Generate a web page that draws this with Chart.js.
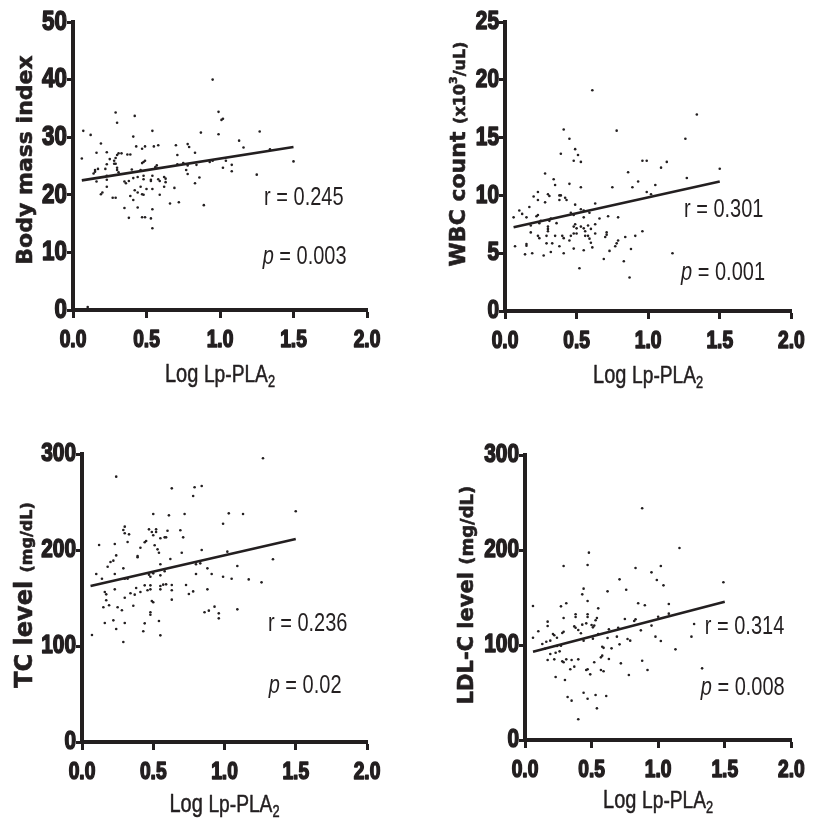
<!DOCTYPE html>
<html>
<head>
<meta charset="utf-8">
<script src="https://cdn.jsdelivr.net/npm/chart.js@4.4.0/dist/chart.umd.min.js"></script>
<style>
html,body{margin:0;padding:0;background:#fff;width:816px;height:821px;overflow:hidden;}
canvas{position:absolute;display:block;}
</style>
</head>
<body>
<canvas id="c1" width="408" height="410" style="left:0;top:0"></canvas>
<canvas id="c2" width="408" height="410" style="left:408px;top:0"></canvas>
<canvas id="c3" width="408" height="411" style="left:0;top:410px"></canvas>
<canvas id="c4" width="408" height="411" style="left:408px;top:410px"></canvas>
<script>
// ---------- data ----------
const xTickValues = [0, 0.5, 1.0, 1.5, 2.0];

// Panel 1: Body mass index
const bmiX = [0.95,0.29,0.99,0.42,1.02,1.01,0.30,0.07,0.54,0.12,0.87,0.99,1.27,0.41,1.13,0.19,1.16,0.43,0.49,0.47,0.55,0.58,0.70,0.78,0.79,0.16,0.23,0.31,0.33,0.30,0.37,0.39,0.71,0.83,0.06,0.25,0.29,0.28,1.34,0.28,0.29,0.23,0.48,0.49,0.47,0.71,0.75,0.78,0.84,0.93,0.95,1.04,1.08,1.02,1.08,1.50,0.22,0.17,0.15,0.14,0.15,0.30,0.30,0.31,0.40,0.46,0.57,0.56,0.77,0.78,0.86,0.83,1.25,0.23,0.23,0.16,0.23,0.35,0.36,0.38,0.41,0.44,0.48,0.48,0.53,0.53,0.54,0.58,0.59,0.62,0.63,0.63,0.62,0.50,0.69,0.46,0.42,0.44,0.47,0.48,0.54,0.59,0.19,0.20,0.27,0.29,0.39,0.41,0.66,0.72,0.89,0.35,0.44,0.54,0.38,0.47,0.49,0.53,0.54,0.10];
const bmiY = [40.0,34.3,34.4,33.7,33.2,33.0,32.5,31.1,31.1,30.4,30.8,30.5,31.0,30.1,29.4,28.9,28.2,28.4,28.4,28.0,28.4,28.6,28.6,28.8,28.3,27.3,27.4,27.2,27.2,26.9,27.0,27.0,26.9,27.3,26.3,26.2,26.4,25.9,27.9,25.4,25.4,25.3,25.7,25.9,25.5,25.3,25.5,25.1,25.2,25.7,25.9,25.9,25.2,24.7,24.1,25.8,24.5,24.5,24.3,23.7,24.0,24.7,24.3,23.9,24.4,24.3,25.1,24.8,24.3,23.6,23.0,22.0,23.5,23.3,22.6,22.3,21.4,22.3,22.0,22.4,22.9,23.1,23.3,22.7,22.4,22.6,23.3,22.7,22.4,23.1,22.8,22.2,21.4,21.0,21.2,21.4,20.8,20.4,20.1,20.0,21.0,20.0,20.1,20.4,19.5,19.5,19.8,19.1,18.5,18.7,18.2,17.7,17.8,17.5,16.0,16.1,16.1,15.9,14.2,0.5];
const bmiFitX = [0.06, 1.5];
const bmiFitY = [22.5, 28.3];
const bmiTicks = [0, 10, 20, 30, 40, 50];

// Panel 2: WBC count
const wbcX = [0.61,1.34,0.41,0.78,0.45,1.26,0.49,0.51,0.39,0.48,0.53,0.96,0.99,1.13,1.09,1.50,0.86,0.28,0.34,0.35,1.27,0.93,0.45,0.53,0.75,0.89,1.05,0.99,1.02,0.23,0.20,0.30,0.31,0.38,0.39,0.38,0.42,0.43,0.23,0.28,0.17,0.49,0.63,0.10,0.12,0.15,0.06,0.23,0.22,0.32,0.31,0.36,0.24,0.25,0.18,0.30,0.30,0.30,0.46,0.48,0.53,0.55,0.59,0.55,0.49,0.48,0.50,0.53,0.55,0.58,0.60,0.63,0.66,0.72,0.79,0.18,0.23,0.24,0.29,0.35,0.40,0.41,0.46,0.48,0.50,0.56,0.58,0.59,0.63,0.45,0.56,0.60,0.61,0.71,0.70,0.71,0.79,0.78,0.77,0.84,0.91,0.96,0.29,0.33,0.07,0.15,0.15,0.38,0.48,0.55,0.88,0.32,0.14,0.19,0.27,0.41,0.73,0.69,0.83,1.17,0.52,0.87];
const wbcY = [19.1,17.0,15.7,15.6,14.9,14.9,14.0,13.5,13.6,13.0,12.9,13.0,13.0,12.9,12.4,12.3,12.0,11.9,11.4,10.9,11.5,11.2,11.0,10.7,10.7,10.7,10.9,10.3,10.1,10.3,9.9,10.1,9.95,10.0,10.0,9.6,9.8,9.6,9.6,9.4,9.0,9.2,9.3,8.7,8.4,8.1,8.1,8.3,8.2,8.0,7.8,7.6,7.6,7.8,7.4,7.3,7.1,6.9,8.5,8.3,8.8,8.7,8.5,8.1,7.5,7.3,7.15,7.3,7.15,7.4,7.1,7.5,8.0,8.2,8.1,6.8,6.5,6.3,6.5,6.5,6.5,6.3,6.5,6.7,6.7,6.5,6.5,6.26,6.7,6.1,6.9,5.9,5.5,6.6,6.4,6.8,6.1,5.85,5.6,6.4,6.5,6.9,5.85,5.85,5.6,5.8,5.65,5.6,5.4,5.25,5.36,5.1,4.9,5.0,4.8,5.0,5.2,4.5,4.3,5.0,3.7,2.9];
const wbcFitX = [0.06, 1.5];
const wbcFitY = [7.24, 11.2];
const wbcTicks = [0, 5, 10, 15, 20, 25];

// Panel 3: TC level
const tcX = [1.27,0.24,0.63,0.79,0.84,0.78,1.50,0.50,0.61,0.72,1.03,1.13,0.99,0.29,0.30,0.30,0.33,0.32,0.47,0.52,0.50,0.52,0.49,0.55,0.58,0.60,0.59,0.69,0.71,0.23,0.12,0.44,0.45,0.41,0.51,0.53,0.54,0.39,0.39,0.62,0.70,0.84,1.02,1.34,0.18,0.20,0.22,0.29,0.24,0.55,0.80,0.83,0.88,1.09,0.10,0.14,0.23,0.30,0.32,0.48,0.47,0.50,0.55,0.58,0.80,0.91,0.99,1.05,1.17,1.26,0.23,0.16,0.17,0.34,0.37,0.38,0.41,0.44,0.46,0.48,0.48,0.55,0.57,0.59,0.55,0.63,0.63,0.73,0.75,0.78,0.88,0.30,0.17,0.36,0.49,0.50,0.63,0.15,0.19,0.25,0.28,0.48,0.48,0.86,0.89,0.93,0.96,0.96,1.09,0.16,0.22,0.30,0.44,0.43,0.54,0.24,0.55,0.07,0.29];
const tcY = [295.5,276.4,264.2,265.3,266.7,256.3,240.3,237.5,236.1,237.5,238.2,237.5,227.4,220.8,224.3,217.4,216.3,208.3,221.5,221.5,215.3,218.8,218.8,212.2,213.2,220.1,213.2,220.5,213.2,206.3,205.2,208.0,209.4,202.4,204.9,200.7,197.2,193.8,192.4,190.6,197.2,200.0,198.3,190.3,182.6,187.5,188.9,180.9,194.4,185.1,185.1,186.1,180.9,183.3,175.0,170.1,175.0,170.1,170.1,172.2,174.3,175.7,173.6,177.8,175.0,175.0,172.2,170.1,169.4,166.3,159.0,156.3,153.8,154.9,153.5,160.4,156.3,163.2,158.0,159.0,163.2,162.5,163.9,164.2,159.0,163.5,158.0,163.5,154.2,156.9,159.0,150.3,147.6,142.0,146.9,145.5,148.3,140.3,142.4,140.3,137.2,135.1,132.6,135.1,136.8,141.0,134.0,128.8,138.2,124.0,126.7,124.0,123.6,115.3,126.0,117.7,111.1,111.5,104.2];
const tcFitX = [0.06, 1.5];
const tcFitY = [162.5, 211.5];
const tcTicks = [0, 100, 200, 300];

// Panel 4: LDL-C level
const ldlX = [0.88,1.16,0.48,0.29,0.47,0.83,1.02,0.95,0.99,1.49,1.04,0.71,0.44,0.43,0.62,0.76,0.47,0.06,0.27,0.31,0.55,0.85,0.90,1.08,0.38,0.38,0.29,0.47,0.47,0.54,0.53,0.50,0.52,0.51,0.46,0.43,0.37,0.38,0.40,0.17,0.17,0.75,0.83,0.82,1.00,1.08,1.27,0.10,0.21,0.22,0.29,0.28,0.42,0.44,0.51,0.55,0.63,0.70,0.87,0.95,0.06,0.13,0.16,0.19,0.24,0.24,0.27,0.62,0.69,0.77,0.79,0.98,1.02,1.25,0.71,0.15,0.19,0.23,0.26,0.58,0.59,0.65,0.17,0.22,0.28,0.29,0.31,0.35,0.40,0.58,0.57,0.63,0.72,0.88,1.13,0.37,0.34,0.46,0.47,0.52,0.49,0.57,0.59,0.78,0.92,1.33,0.23,0.30,0.32,0.35,0.44,0.47,0.53,0.61,0.54,0.40];
const ldlY = [243.9,202.1,197.2,183.2,184.2,181.1,183.2,176.5,168.4,166.0,162.8,169.1,159.3,153.3,156.5,158.2,146.3,141.1,140.7,143.9,138.6,143.9,141.8,143.2,132.3,129.5,128.4,132.3,129.5,128.4,126.0,121.1,120.4,118.6,122.8,121.4,119.6,118.2,115.8,124.6,120.0,127.4,127.0,125.3,129.8,133.0,122.1,114.4,111.6,110.2,114.0,112.6,112.3,104.6,106.7,111.6,116.5,118.2,115.4,120.4,107.7,101.1,103.5,104.6,107.7,99.0,99.3,107.4,108.8,106.3,104.6,108.8,104.2,108.8,100.7,96.1,90.5,91.9,93.3,98.2,97.0,96.5,84.2,84.9,82.8,81.8,84.9,84.2,84.9,88.8,87.0,85.3,80.7,83.5,95.4,77.2,74.4,73.7,74.4,81.8,69.1,73.7,72.3,68.4,73.7,75.4,66.3,63.2,45.3,41.4,49.8,43.5,47.4,46.3,33.3,21.8];
const ldlFitX = [0.06, 1.5];
const ldlFitY = [93, 145.5];
const ldlTicks = [0, 100, 200, 300];

// ---------- styling ----------
const INK = '#231f20';
const SANS = "'Liberation Sans',Arial,sans-serif";
const BOLD = "'DejaVu Sans','Liberation Sans',sans-serif";
const SQUEEZE = 0.8; // horizontal compression to mimic a narrow face

// draw the library's own tick labels, horizontally condensed and heavy
function condenseLabels(scale) {
  scale.drawLabels = function (chartArea) {
    const ctx = this.ctx;
    for (const item of this.getLabelItems(chartArea)) {
      const o = item.options;
      ctx.save();
      ctx.translate(o.translation[0], o.translation[1]);
      ctx.scale(SQUEEZE, 1);
      ctx.font = item.font.string;
      ctx.fillStyle = o.color;
      ctx.strokeStyle = o.color;
      ctx.lineWidth = 1.6;
      ctx.lineJoin = 'round';
      ctx.textAlign = o.textAlign;
      ctx.textBaseline = o.textBaseline;
      ctx.fillText(String(item.label), 0, item.textOffset);
      ctx.strokeText(String(item.label), 0, item.textOffset);
      ctx.restore();
    }
  };
}

function drawSegments(ctx, segs, align, squeeze, stroke) {
  let total = 0;
  segs.forEach(s => { ctx.font = s.f; s.w = ctx.measureText(s.t).width; total += s.w; });
  ctx.save();
  ctx.scale(squeeze, 1);
  ctx.strokeStyle = INK;
  ctx.lineJoin = 'round';
  let u = align === 'center' ? -total / 2 : 0;
  segs.forEach(s => {
    ctx.font = s.f;
    ctx.fillText(s.t, u, s.dy || 0);
    if (stroke) { ctx.lineWidth = stroke; ctx.strokeText(s.t, u, s.dy || 0); }
    u += s.w;
  });
  ctx.restore();
}

const textPlugin = {
  id: 'panelText',
  afterDraw(chart) {
    const c = chart.options.plugins.panelText;
    const ctx = chart.ctx;
    const a = chart.chartArea;
    const xs = chart.scales.x, ys = chart.scales.y;
    ctx.save();
    ctx.fillStyle = INK;
    ctx.textBaseline = 'alphabetic';
    ctx.textAlign = 'left';
    // y-axis title (rotated)
    ctx.save();
    ctx.translate(a.left + c.yTitleDx, c.yTitleCy);
    ctx.rotate(-Math.PI / 2);
    drawSegments(ctx, c.yTitle, 'center', 1, 0.6);
    ctx.restore();
    // x-axis title
    ctx.save();
    ctx.translate((a.left + a.right) / 2, a.bottom + c.xTitleDy);
    drawSegments(ctx, [
      {t: 'Log ', f: '25px ' + SANS},
      {t: 'Lp-PLA', f: '24px ' + SANS},
      {t: '2', f: '16px ' + SANS, dy: 5}
    ], 'center', SQUEEZE, 0.5);
    ctx.restore();
    // statistics
    ctx.save();
    ctx.translate(xs.getPixelForValue(c.r[0]), ys.getPixelForValue(c.r[1]));
    drawSegments(ctx, [{t: 'r = ' + c.r[2], f: '25px ' + SANS}], 'left', SQUEEZE, 0);
    ctx.restore();
    ctx.save();
    ctx.translate(xs.getPixelForValue(c.p[0]), ys.getPixelForValue(c.p[1]));
    drawSegments(ctx, [{t: 'p', f: 'italic 25px ' + SANS}, {t: ' = ' + c.p[2], f: '25px ' + SANS}], 'left', SQUEEZE, 0);
    ctx.restore();
    ctx.restore();
  }
};

function makePanel(id, cfg) {
  const pts = cfg.xs.map((x, i) => ({x: x, y: cfg.ys[i]}));
  const fit = cfg.fitX.map((x, i) => ({x: x, y: cfg.fitY[i]}));
  return new Chart(document.getElementById(id), {
    type: 'scatter',
    data: {
      datasets: [
        {data: pts, pointRadius: 1.3, pointBackgroundColor: INK, pointBorderWidth: 0, showLine: false},
        {data: fit, showLine: true, borderColor: INK, borderWidth: 2.6, pointRadius: 0}
      ]
    },
    options: {
      responsive: false,
      animation: false,
      devicePixelRatio: 1,
      layout: {padding: {left: 0, top: cfg.top, right: cfg.right, bottom: 0}},
      plugins: {
        legend: {display: false},
        tooltip: {enabled: false},
        panelText: cfg.text
      },
      scales: {
        x: {
          type: 'linear', min: 0, max: 2,
          afterBuildTicks: s => { s.ticks = xTickValues.map(v => ({value: v})); },
          afterFit: s => { s.height = cfg.xAxisH; condenseLabels(s); },
          ticks: {
            callback: v => Number(v).toFixed(1),
            font: {family: SANS, size: 24, weight: 'bold'},
            color: INK, padding: 8, maxRotation: 0, autoSkip: false
          },
          grid: {drawOnChartArea: false, drawTicks: true, tickLength: 8, tickWidth: 3, tickColor: INK, color: INK},
          border: {display: true, width: 4, color: INK}
        },
        y: {
          type: 'linear', min: cfg.yTicks[0], max: cfg.yTicks[cfg.yTicks.length - 1],
          afterBuildTicks: s => { s.ticks = cfg.yTicks.map(v => ({value: v})); },
          afterFit: s => { s.width = cfg.left; condenseLabels(s); },
          ticks: {
            font: {family: SANS, size: cfg.yTickSize, weight: 'bold'},
            color: INK, padding: 0, autoSkip: false
          },
          grid: {drawOnChartArea: false, drawTicks: true, tickLength: 6, tickWidth: 3, tickColor: INK, color: INK},
          border: {display: true, width: 4, color: INK}
        }
      }
    },
    plugins: [textPlugin]
  });
}

makePanel('c1', {
  xs: bmiX, ys: bmiY, fitX: bmiFitX, fitY: bmiFitY, yTicks: bmiTicks, yTickSize: 28,
  left: 73, top: 22, right: 41, xAxisH: 100,
  text: {
    yTitle: [{t: 'Body mass index', f: 'bold 22px ' + BOLD}],
    yTitleDx: -41, yTitleCy: 160, xTitleDy: 72,
    r: [1.30, 18.2, '0.245'], p: [1.29, 8.0, '0.003']
  }
});

makePanel('c2', {
  xs: wbcX, ys: wbcY, fitX: wbcFitX, fitY: wbcFitY, yTicks: wbcTicks, yTickSize: 26,
  left: 97, top: 22, right: 18, xAxisH: 99,
  text: {
    yTitle: [
      {t: 'WBC count ', f: 'bold 22px ' + BOLD},
      {t: '(x10', f: 'bold 16px ' + BOLD},
      {t: '3', f: 'bold 11px ' + BOLD, dy: -8},
      {t: '/uL)', f: 'bold 16px ' + BOLD}
    ],
    yTitleDx: -40, yTitleCy: 154, xTitleDy: 72,
    r: [1.25, 8.1, '0.301'], p: [1.23, 2.7, '0.001']
  }
});

makePanel('c3', {
  xs: tcX, ys: tcY, fitX: tcFitX, fitY: tcFitY, yTicks: tcTicks, yTickSize: 26,
  left: 82, top: 44, right: 41, xAxisH: 79,
  text: {
    yTitle: [
      {t: 'TC level ', f: 'bold 24px ' + BOLD},
      {t: '(mg/dL)', f: 'bold 16px ' + BOLD}
    ],
    yTitleDx: -50, yTitleCy: 185, xTitleDy: 70,
    r: [1.305, 115.6, '0.236'], p: [1.31, 51, '0.02']
  }
});

makePanel('c4', {
  xs: ldlX, ys: ldlY, fitX: ldlFitX, fitY: ldlFitY, yTicks: ldlTicks, yTickSize: 26,
  left: 117, top: 45, right: 13, xAxisH: 81,
  text: {
    yTitle: [
      {t: 'LDL-C level ', f: 'bold 21px ' + BOLD},
      {t: '(mg/dL)', f: 'bold 18px ' + BOLD}
    ],
    yTitleDx: -52, yTitleCy: 185, xTitleDy: 68,
    r: [1.35, 111.6, '0.314'], p: [1.32, 47.4, '0.008']
  }
});
</script>
</body>
</html>
